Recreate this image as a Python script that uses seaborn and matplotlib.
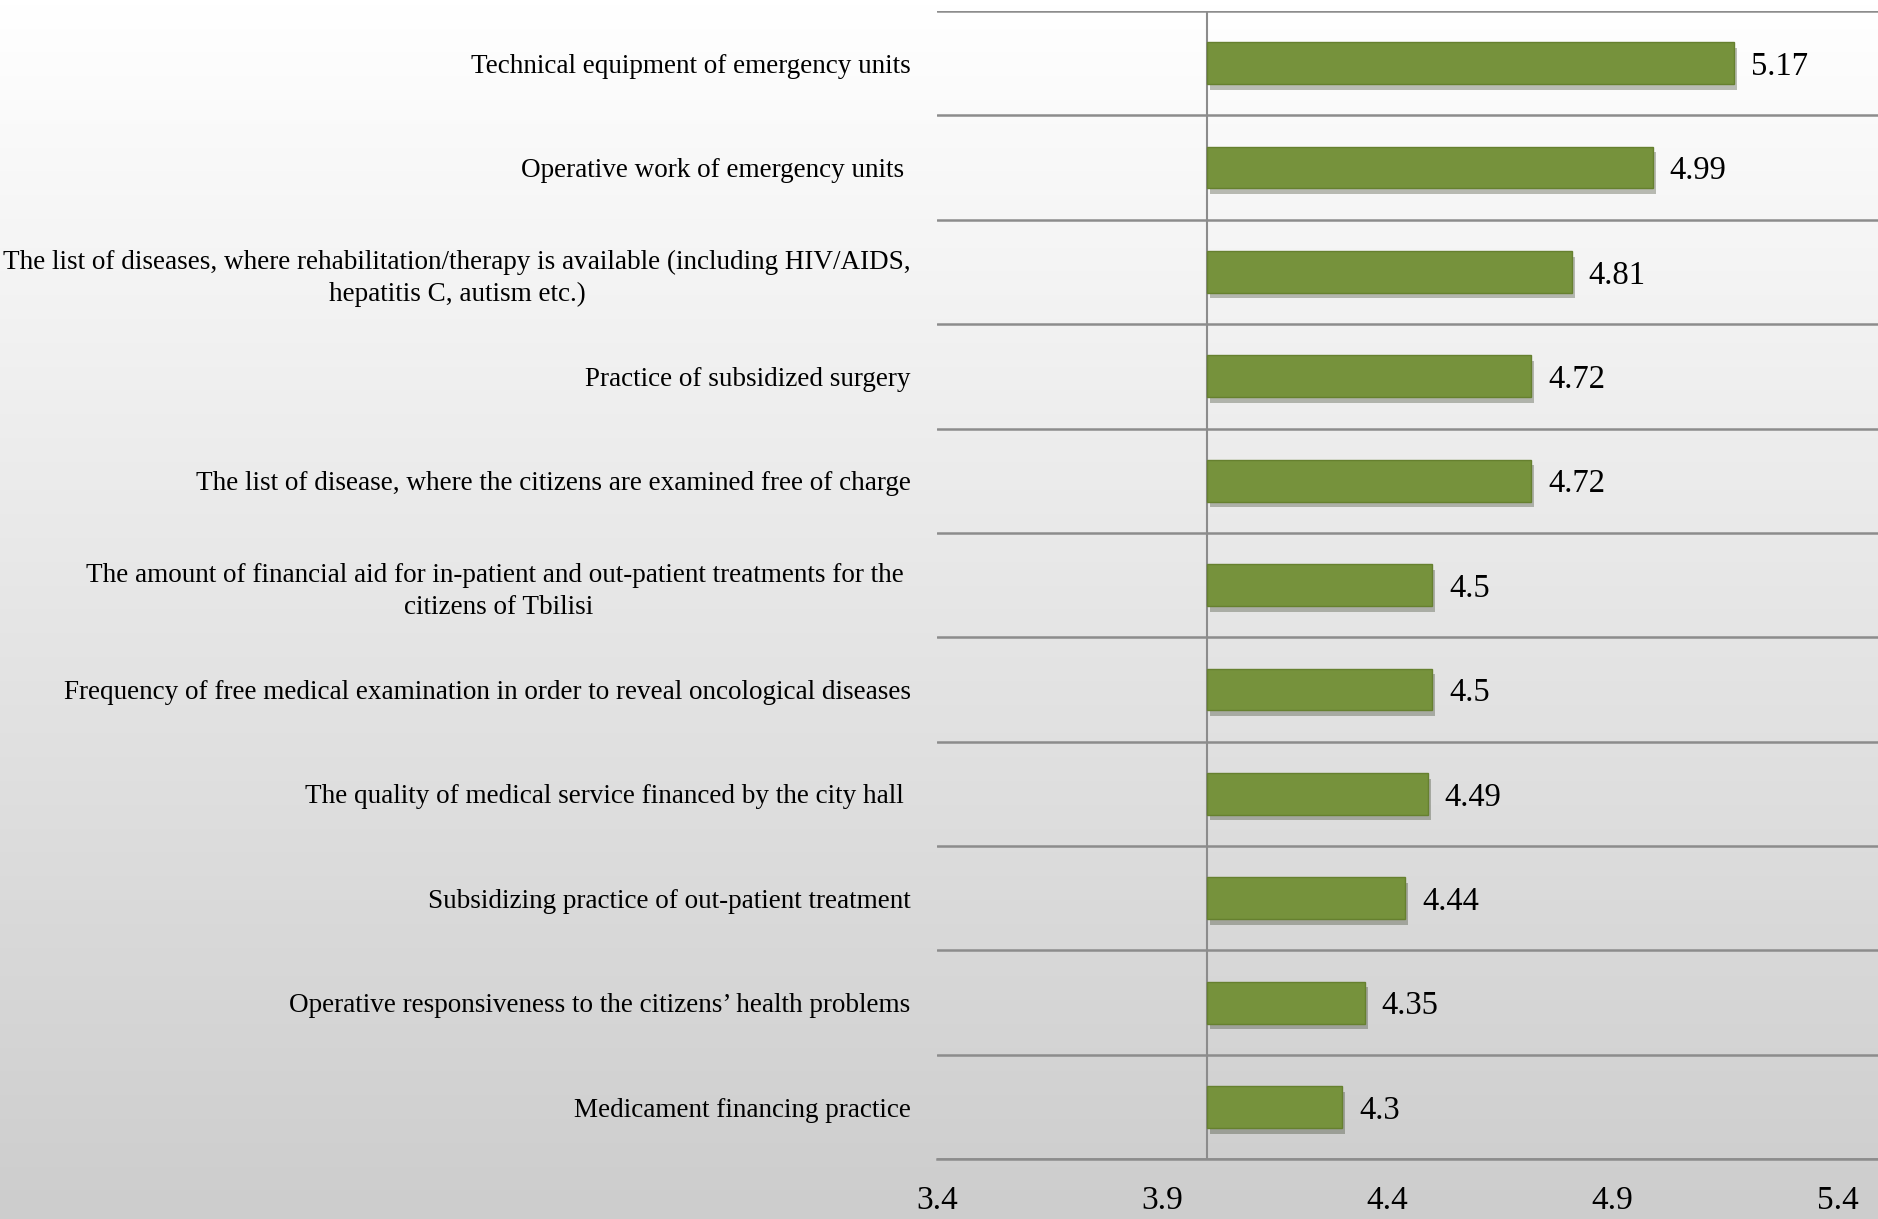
import numpy as np
import pandas as pd
import matplotlib
matplotlib.use('Agg')
import matplotlib.pyplot as plt
import matplotlib.patheffects as pe
from matplotlib.colors import LinearSegmentedColormap
import seaborn as sns

# survey items, top to bottom, and mean scores
items = [
    "Technical equipment of emergency units",
    "Operative work of emergency units ",
    "The list of diseases, where rehabilitation/therapy is available (including HIV/AIDS,\nhepatitis C, autism etc.)",
    "Practice of subsidized surgery",
    "The list of disease, where the citizens are examined free of charge",
    "The amount of financial aid for in-patient and out-patient treatments for the \ncitizens of Tbilisi",
    "Frequency of free medical examination in order to reveal oncological diseases",
    "The quality of medical service financed by the city hall ",
    "Subsidizing practice of out-patient treatment",
    "Operative responsiveness to the citizens\u2019 health problems",
    "Medicament financing practice",
]
scores = [5.17, 4.99, 4.81, 4.72, 4.72, 4.5, 4.5, 4.49, 4.44, 4.35, 4.3]
x_ticks = [3.4, 3.9, 4.4, 4.9, 5.4]
base = 4.0  # bars start where the vertical axis crosses

sns.set_style('white')
plt.rcParams['font.family'] = ['Liberation Serif', 'DejaVu Serif']
plt.rcParams['text.color'] = 'black'
plt.rcParams['xtick.labelcolor'] = 'black'
plt.rcParams['ytick.labelcolor'] = 'black'

bar_color = '#76923c'
grid_color = '#8c8c8c'

fig = plt.figure(figsize=(18.78, 12.19), dpi=100)

# gradient background over the whole figure
bg = fig.add_axes([0, 0, 1, 1], zorder=-10)
grad = np.linspace(0, 1, 256).reshape(-1, 1)
cmap = LinearSegmentedColormap.from_list('bg', ['#ffffff', '#cdcdcd'])
bg.imshow(grad, aspect='auto', cmap=cmap, extent=[0, 1, 0, 1])
bg.axis('off')

ax = fig.add_axes([0.499, 0.049, 0.501, 0.942])
ax.patch.set_alpha(0)

df = pd.DataFrame({'item': items, 'score': scores})
sns.barplot(data=df, x='score', y='item', orient='h', ax=ax, color=bar_color,
            width=0.4, edgecolor='#66802f', linewidth=1.0, saturation=1)

# move bars so they start at the axis crossing
for p in ax.patches:
    p.set_width(p.get_width() - base)
    p.set_x(base)
    p.set_path_effects([pe.SimplePatchShadow(offset=(2, -4), alpha=0.3), pe.Normal()])

for i, v in enumerate(scores):
    ax.annotate(f'{v:g}', xy=(v, i), xytext=(12, 0), textcoords='offset points',
                va='center_baseline', ha='left', fontsize=23.5, color='black')

ax.set_xlim(3.4, 5.49)
ax.set_ylim(10.5, -0.5)
ax.set_xticks(x_ticks)
ax.set_xticklabels([f'{t:.1f}' for t in x_ticks], fontsize=24)
ax.set_yticks(np.arange(-0.5, 11, 1), minor=True)
ax.grid(axis='y', which='minor', color=grid_color, lw=1.8)
ax.grid(axis='y', which='major', visible=False)
ax.axvline(base, color=grid_color, lw=1.5, zorder=0.5)

ax.tick_params(axis='y', which='both', length=0, pad=19, labelsize=19.5)
ax.tick_params(axis='x', length=10, width=1.5, color=grid_color, direction='out', pad=9)
for lbl in ax.get_yticklabels():
    lbl.set_multialignment('center')
    lbl.set_linespacing(1.35)

for s in ['left', 'right', 'top']:
    ax.spines[s].set_visible(False)
ax.spines['bottom'].set_color(grid_color)
ax.spines['bottom'].set_linewidth(1.8)
ax.set_xlabel('')
ax.set_ylabel('')

fig.savefig('out.png', dpi=100)
